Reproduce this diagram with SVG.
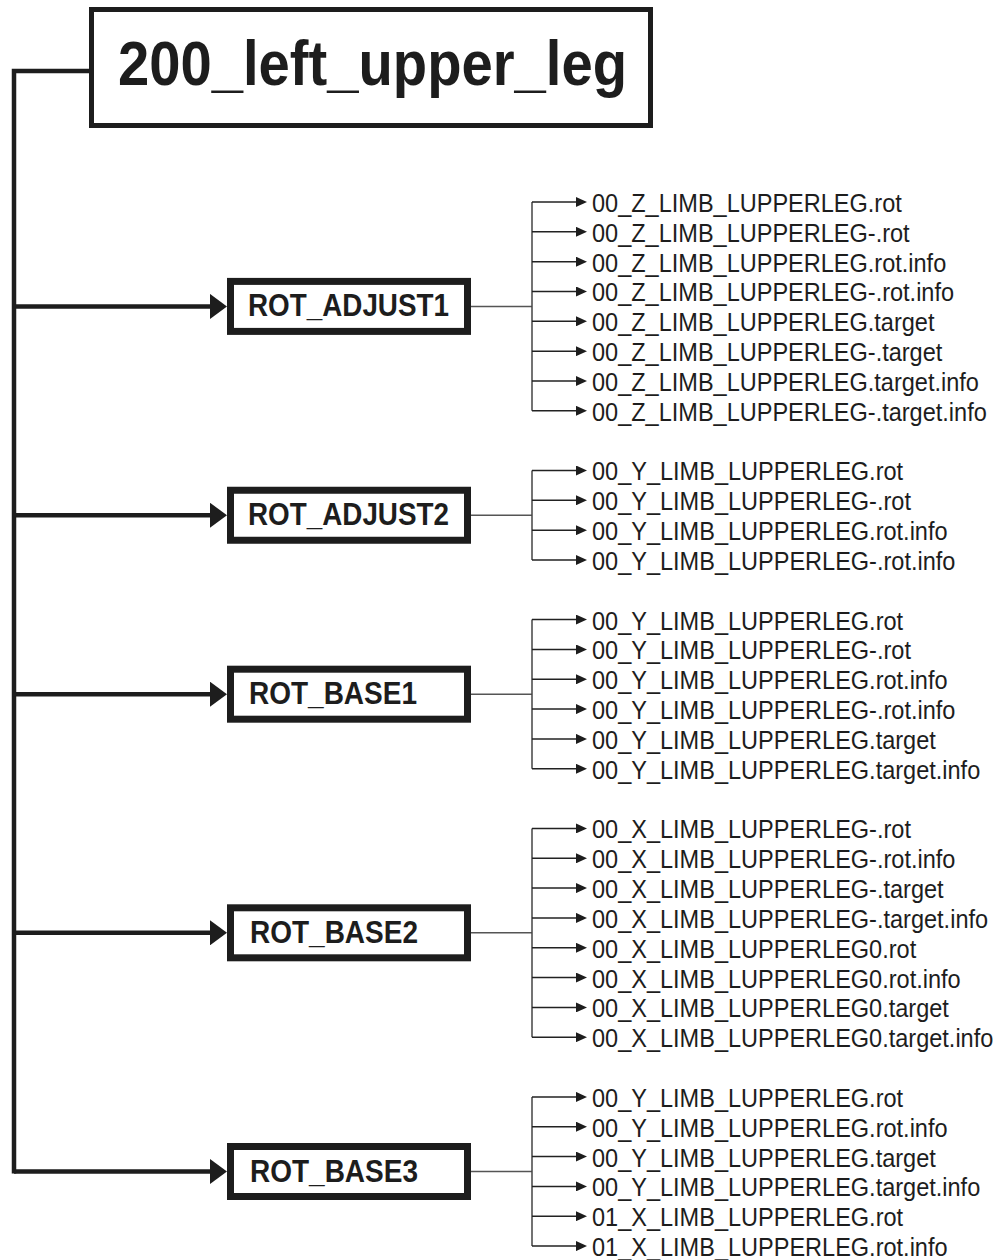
<svg xmlns="http://www.w3.org/2000/svg" width="997" height="1260" viewBox="0 0 997 1260">
<defs>
<style>
.bg{fill:#ffffff}
.title-box{fill:#ffffff;stroke:#1d1d1d;stroke-width:5}
.title{font-family:"Liberation Sans",Arial,sans-serif;font-weight:bold;font-size:63px;fill:#1d1d1d}
.node-box{fill:#ffffff;stroke:#1d1d1d;stroke-width:7}
.node-label{font-family:"Liberation Sans",Arial,sans-serif;font-weight:bold;font-size:30.5px;fill:#1d1d1d}
.trunk{fill:none;stroke:#1d1d1d;stroke-width:4.5;stroke-linejoin:miter}
.branch{fill:none;stroke:#1d1d1d;stroke-width:4.5;marker-end:url(#bigArrow)}
.hub{fill:none;stroke:#555555;stroke-width:1.5}
.spine{fill:none;stroke:#444444;stroke-width:1.5}
.leaf-line{fill:none;stroke:#222222;stroke-width:1.5;marker-end:url(#smallArrow)}
.leaf{font-family:"Liberation Sans",Arial,sans-serif;font-size:26px;fill:#1d1d1d}
</style>
<marker id="bigArrow" viewBox="0 0 17 25" refX="2" refY="12.5" markerWidth="17" markerHeight="25" markerUnits="userSpaceOnUse" orient="auto">
<path d="M0,0 L17,12.5 L0,25 Z" fill="#1d1d1d"/>
</marker>
<marker id="smallArrow" viewBox="0 0 11 10" refX="1" refY="5" markerWidth="11" markerHeight="10" markerUnits="userSpaceOnUse" orient="auto">
<path d="M0,0 L11,5 L0,10 Z" fill="#1d1d1d"/>
</marker>
</defs>
<rect class="bg" x="0" y="0" width="997" height="1260"/>

<g id="connectors">
<polyline class="trunk" points="91,71 14,71 14,1173.5"/>
<line class="branch" x1="14" y1="306.4" x2="212" y2="306.4"/>
<line class="branch" x1="14" y1="515.25" x2="212" y2="515.25"/>
<line class="branch" x1="14" y1="694.2" x2="212" y2="694.2"/>
<line class="branch" x1="14" y1="932.8" x2="212" y2="932.8"/>
<line class="branch" x1="14" y1="1171.5" x2="212" y2="1171.5"/>

<line class="hub" x1="471" y1="306.4" x2="532" y2="306.4"/>
<line class="spine" x1="532" y1="202" x2="532" y2="410.8"/>
<line class="leaf-line" x1="532" y1="202" x2="577" y2="202"/>
<line class="leaf-line" x1="532" y1="231.8" x2="577" y2="231.8"/>
<line class="leaf-line" x1="532" y1="261.7" x2="577" y2="261.7"/>
<line class="leaf-line" x1="532" y1="291.5" x2="577" y2="291.5"/>
<line class="leaf-line" x1="532" y1="321.3" x2="577" y2="321.3"/>
<line class="leaf-line" x1="532" y1="351.2" x2="577" y2="351.2"/>
<line class="leaf-line" x1="532" y1="381" x2="577" y2="381"/>
<line class="leaf-line" x1="532" y1="410.8" x2="577" y2="410.8"/>

<line class="hub" x1="471" y1="515.25" x2="532" y2="515.25"/>
<line class="spine" x1="532" y1="470.5" x2="532" y2="560"/>
<line class="leaf-line" x1="532" y1="470.5" x2="577" y2="470.5"/>
<line class="leaf-line" x1="532" y1="500.3" x2="577" y2="500.3"/>
<line class="leaf-line" x1="532" y1="530.2" x2="577" y2="530.2"/>
<line class="leaf-line" x1="532" y1="560" x2="577" y2="560"/>

<line class="hub" x1="471" y1="694.2" x2="532" y2="694.2"/>
<line class="spine" x1="532" y1="619.6" x2="532" y2="768.8"/>
<line class="leaf-line" x1="532" y1="619.6" x2="577" y2="619.6"/>
<line class="leaf-line" x1="532" y1="649.5" x2="577" y2="649.5"/>
<line class="leaf-line" x1="532" y1="679.3" x2="577" y2="679.3"/>
<line class="leaf-line" x1="532" y1="709.1" x2="577" y2="709.1"/>
<line class="leaf-line" x1="532" y1="738.9" x2="577" y2="738.9"/>
<line class="leaf-line" x1="532" y1="768.8" x2="577" y2="768.8"/>

<line class="hub" x1="471" y1="932.8" x2="532" y2="932.8"/>
<line class="spine" x1="532" y1="828.4" x2="532" y2="1037.2"/>
<line class="leaf-line" x1="532" y1="828.4" x2="577" y2="828.4"/>
<line class="leaf-line" x1="532" y1="858.3" x2="577" y2="858.3"/>
<line class="leaf-line" x1="532" y1="888.1" x2="577" y2="888.1"/>
<line class="leaf-line" x1="532" y1="917.9" x2="577" y2="917.9"/>
<line class="leaf-line" x1="532" y1="947.8" x2="577" y2="947.8"/>
<line class="leaf-line" x1="532" y1="977.6" x2="577" y2="977.6"/>
<line class="leaf-line" x1="532" y1="1007.4" x2="577" y2="1007.4"/>
<line class="leaf-line" x1="532" y1="1037.2" x2="577" y2="1037.2"/>

<line class="hub" x1="471" y1="1171.5" x2="532" y2="1171.5"/>
<line class="spine" x1="532" y1="1096.9" x2="532" y2="1246.1"/>
<line class="leaf-line" x1="532" y1="1096.9" x2="577" y2="1096.9"/>
<line class="leaf-line" x1="532" y1="1126.7" x2="577" y2="1126.7"/>
<line class="leaf-line" x1="532" y1="1156.6" x2="577" y2="1156.6"/>
<line class="leaf-line" x1="532" y1="1186.4" x2="577" y2="1186.4"/>
<line class="leaf-line" x1="532" y1="1216.2" x2="577" y2="1216.2"/>
<line class="leaf-line" x1="532" y1="1246.1" x2="577" y2="1246.1"/>
</g>

<g id="node-root">
<rect class="title-box" x="91.5" y="9.5" width="559" height="116"/>
<text class="title" x="118" y="85" textLength="509" lengthAdjust="spacingAndGlyphs">200_left_upper_leg</text>
</g>

<g id="node-rot-adjust1">
<rect class="node-box" x="230.5" y="281.4" width="237" height="50"/>
<text class="node-label" x="248" y="316.4" textLength="201" lengthAdjust="spacingAndGlyphs">ROT_ADJUST1</text>
</g>
<g id="node-rot-adjust2">
<rect class="node-box" x="230.5" y="490.25" width="237" height="50"/>
<text class="node-label" x="248" y="525.25" textLength="201" lengthAdjust="spacingAndGlyphs">ROT_ADJUST2</text>
</g>
<g id="node-rot-base1">
<rect class="node-box" x="230.5" y="669.2" width="237" height="50"/>
<text class="node-label" x="249" y="704.2" textLength="168" lengthAdjust="spacingAndGlyphs">ROT_BASE1</text>
</g>
<g id="node-rot-base2">
<rect class="node-box" x="230.5" y="907.8" width="237" height="50"/>
<text class="node-label" x="250" y="942.8" textLength="168" lengthAdjust="spacingAndGlyphs">ROT_BASE2</text>
</g>
<g id="node-rot-base3">
<rect class="node-box" x="230.5" y="1146.5" width="237" height="50"/>
<text class="node-label" x="250" y="1181.5" textLength="168" lengthAdjust="spacingAndGlyphs">ROT_BASE3</text>
</g>

<g id="leaves-adjust1" transform="translate(592 0) scale(0.905 1)">
<text class="leaf" x="0" y="212">00_Z_LIMB_LUPPERLEG.rot</text>
<text class="leaf" x="0" y="241.8">00_Z_LIMB_LUPPERLEG-.rot</text>
<text class="leaf" x="0" y="271.7">00_Z_LIMB_LUPPERLEG.rot.info</text>
<text class="leaf" x="0" y="301.5">00_Z_LIMB_LUPPERLEG-.rot.info</text>
<text class="leaf" x="0" y="331.3">00_Z_LIMB_LUPPERLEG.target</text>
<text class="leaf" x="0" y="361.2">00_Z_LIMB_LUPPERLEG-.target</text>
<text class="leaf" x="0" y="391">00_Z_LIMB_LUPPERLEG.target.info</text>
<text class="leaf" x="0" y="420.8">00_Z_LIMB_LUPPERLEG-.target.info</text>
</g>
<g id="leaves-adjust2" transform="translate(592 0) scale(0.905 1)">
<text class="leaf" x="0" y="480.5">00_Y_LIMB_LUPPERLEG.rot</text>
<text class="leaf" x="0" y="510.3">00_Y_LIMB_LUPPERLEG-.rot</text>
<text class="leaf" x="0" y="540.2">00_Y_LIMB_LUPPERLEG.rot.info</text>
<text class="leaf" x="0" y="570">00_Y_LIMB_LUPPERLEG-.rot.info</text>
</g>
<g id="leaves-base1" transform="translate(592 0) scale(0.905 1)">
<text class="leaf" x="0" y="629.6">00_Y_LIMB_LUPPERLEG.rot</text>
<text class="leaf" x="0" y="659.5">00_Y_LIMB_LUPPERLEG-.rot</text>
<text class="leaf" x="0" y="689.3">00_Y_LIMB_LUPPERLEG.rot.info</text>
<text class="leaf" x="0" y="719.1">00_Y_LIMB_LUPPERLEG-.rot.info</text>
<text class="leaf" x="0" y="748.9">00_Y_LIMB_LUPPERLEG.target</text>
<text class="leaf" x="0" y="778.8">00_Y_LIMB_LUPPERLEG.target.info</text>
</g>
<g id="leaves-base2" transform="translate(592 0) scale(0.905 1)">
<text class="leaf" x="0" y="838.4">00_X_LIMB_LUPPERLEG-.rot</text>
<text class="leaf" x="0" y="868.3">00_X_LIMB_LUPPERLEG-.rot.info</text>
<text class="leaf" x="0" y="898.1">00_X_LIMB_LUPPERLEG-.target</text>
<text class="leaf" x="0" y="927.9">00_X_LIMB_LUPPERLEG-.target.info</text>
<text class="leaf" x="0" y="957.8">00_X_LIMB_LUPPERLEG0.rot</text>
<text class="leaf" x="0" y="987.6">00_X_LIMB_LUPPERLEG0.rot.info</text>
<text class="leaf" x="0" y="1017.4">00_X_LIMB_LUPPERLEG0.target</text>
<text class="leaf" x="0" y="1047.2">00_X_LIMB_LUPPERLEG0.target.info</text>
</g>
<g id="leaves-base3" transform="translate(592 0) scale(0.905 1)">
<text class="leaf" x="0" y="1106.9">00_Y_LIMB_LUPPERLEG.rot</text>
<text class="leaf" x="0" y="1136.7">00_Y_LIMB_LUPPERLEG.rot.info</text>
<text class="leaf" x="0" y="1166.6">00_Y_LIMB_LUPPERLEG.target</text>
<text class="leaf" x="0" y="1196.4">00_Y_LIMB_LUPPERLEG.target.info</text>
<text class="leaf" x="0" y="1226.2">01_X_LIMB_LUPPERLEG.rot</text>
<text class="leaf" x="0" y="1256.1">01_X_LIMB_LUPPERLEG.rot.info</text>
</g>
</svg>
